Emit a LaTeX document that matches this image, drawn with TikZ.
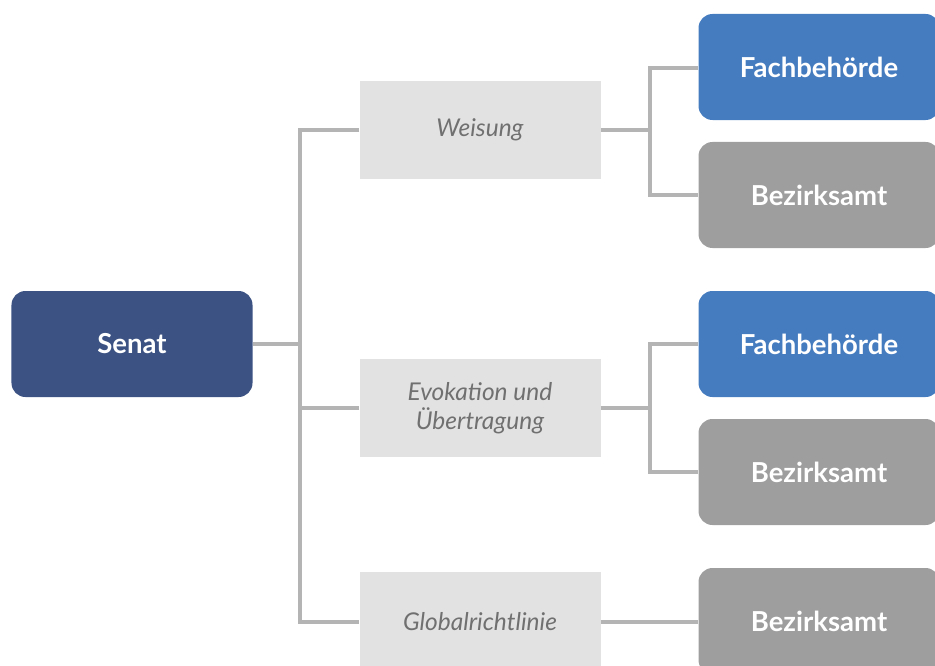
\documentclass[tikz,border=0pt]{standalone}
\usepackage{fontspec}
\setmainfont{Lato}
\definecolor{senatblue}{HTML}{3B5282}
\definecolor{fachblue}{HTML}{457CC0}
\definecolor{bezgray}{HTML}{9D9E9D}
\definecolor{labelfill}{HTML}{E2E2E2}
\definecolor{labeltext}{HTML}{707070}
\definecolor{conncol}{HTML}{B4B4B4}
\begin{document}
\begin{tikzpicture}[x=1bp,y=-1bp,
  box/.style={rectangle, rounded corners=14bp, minimum width=241bp, minimum height=106bp,
    inner sep=0pt, text=white, font=\fontsize{27.5bp}{30bp}\selectfont\bfseries, align=center},
  senatbox/.style={box, fill=senatblue},
  fachbox/.style={box, fill=fachblue},
  bezbox/.style={box, fill=bezgray},
  labelbox/.style={rectangle, fill=labelfill, minimum width=241bp, minimum height=98bp,
    inner sep=0pt, text=labeltext, font=\fontsize{24.5bp}{29.5bp}\selectfont\itshape, align=center},
  conn/.style={draw=conncol, line width=3.2bp}]
\useasboundingbox (0,0) rectangle (935,666);
\node[senatbox] (senat) at (132,344) {Senat};
\node[labelbox] (w) at (480,130) {Weisung};
\node[labelbox] (e) at (480,408) {Evokation und\\Übertragung};
\node[labelbox, minimum height=100bp] (g) at (480,622) {Globalrichtlinie};
\node[fachbox] (fa1) at (819,67) {Fachbehörde};
\node[bezbox] (bz1) at (819,195) {Bezirksamt};
\node[fachbox] (fa2) at (819,344) {Fachbehörde};
\node[bezbox] (bz2) at (819,472) {Bezirksamt};
\node[bezbox] (bz3) at (819,621) {Bezirksamt};
\coordinate (t) at (300,344);
\coordinate (f1) at (650,130);
\coordinate (f2) at (650,408);
\draw[conn] (senat.east) -- (t);
\draw[conn] (w.west) -| (t) |- (g.west);
\draw[conn] (e.west) -- (e.west -| t);
\draw[conn] (w.east) -- (f1);
\draw[conn] (fa1.west |- 0,68) -| (f1) |- (bz1.west);
\draw[conn] (e.east) -- (f2);
\draw[conn] (fa2.west) -| (f2) |- (bz2.west);
\draw[conn] (g.east) -- (g.east -| bz3.west);
\end{tikzpicture}
\end{document}
